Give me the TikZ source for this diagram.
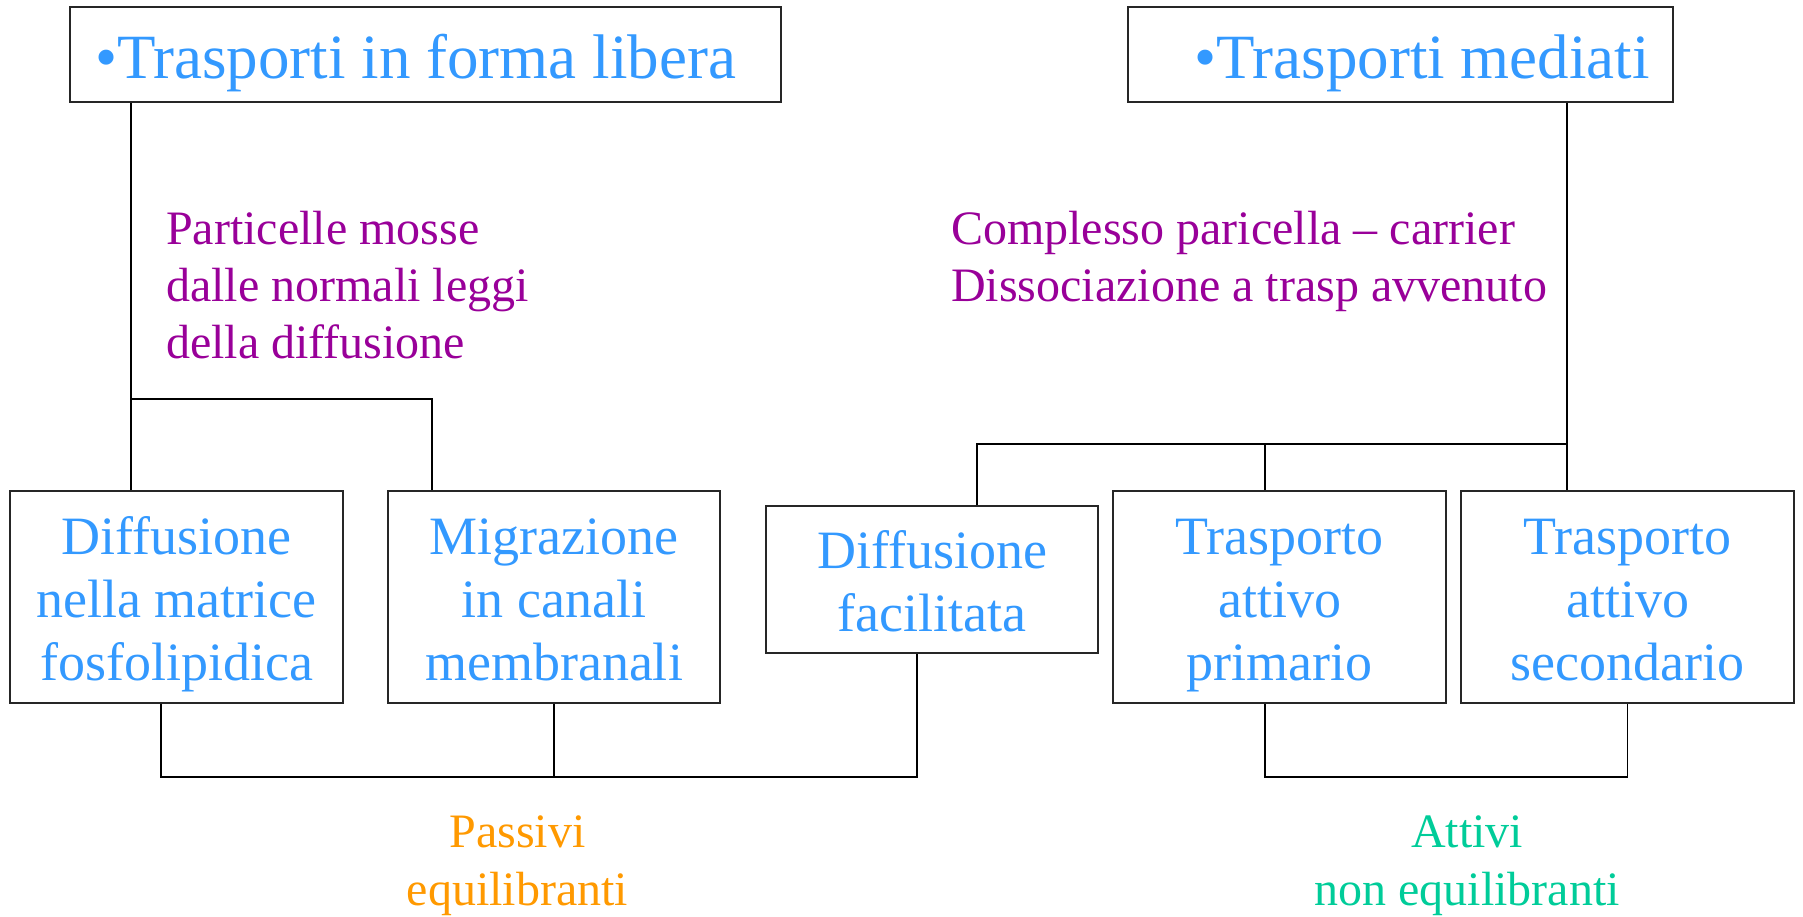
\documentclass[tikz,border=0pt]{standalone}
\usepackage{fontspec}
\setmainfont{Liberation Serif}
\definecolor{tblue}{HTML}{3399FF}
\definecolor{tpurple}{HTML}{990099}
\definecolor{torange}{HTML}{FF9900}
\definecolor{tgreen}{HTML}{00CC99}
\begin{document}
\begin{tikzpicture}[x=1pt,y=-1pt,
  boxst/.style={draw=black!85,line width=1.4pt,inner sep=0pt,rectangle},
  conn/.style={draw=black,line width=1.6pt},
  toptext/.style={text=tblue,font=\fontsize{63}{70}\selectfont,inner sep=0pt,anchor=base},
  boxtext/.style={text=tblue,font=\fontsize{54}{63}\selectfont,inner sep=0pt,align=center,anchor=base},
  notetext/.style={text=tpurple,font=\fontsize{48}{57}\selectfont,inner sep=0pt,align=left,anchor=base west},
  cattext/.style={font=\fontsize{48}{57.5}\selectfont,inner sep=0pt,align=center,anchor=base}]
\useasboundingbox (0,0) rectangle (1803,916);
% top boxes
\node[boxst,minimum width=711pt,minimum height=95pt] (tl) at (425.5,54.5) {};
\node[boxst,minimum width=545pt,minimum height=95pt] (tr) at (1400.5,54.5) {};
\node[toptext] (tlt) at (415.5,78) {•Trasporti in forma libera};
\node[toptext] (trt) at (1422,78) {•Trasporti mediati};
% bottom boxes
\node[boxst,minimum width=333pt,minimum height=212pt] (b1) at (176.5,597) {};
\node[boxst,minimum width=332pt,minimum height=212pt] (b2) at (554,597) {};
\node[boxst,minimum width=332pt,minimum height=147pt] (b3) at (932,579.5) {};
\node[boxst,minimum width=333pt,minimum height=212pt] (b4) at (1279.5,597) {};
\node[boxst,minimum width=333pt,minimum height=212pt] (b5) at (1627.5,597) {};
\node[boxtext] (b1t) at (176.5,680) {Diffusione\\nella matrice\\fosfolipidica};
\node[boxtext] (b2t) at (554,680) {Migrazione\\in canali\\membranali};
\node[boxtext] (b3t) at (932,631) {Diffusione\\facilitata};
\node[boxtext] (b4t) at (1279.5,680) {Trasporto\\attivo\\primario};
\node[boxtext] (b5t) at (1627.5,680) {Trasporto\\attivo\\secondario};
% notes
\node[notetext] (nl) at (166,358) {Particelle mosse\\dalle normali leggi\\della diffusione};
\node[notetext] (nr) at (951,301) {Complesso paricella -- carrier\\Dissociazione a trasp avvenuto};
\node[cattext,text=torange] (pas) at (517.5,905) {Passivi\\equilibranti};
\node[cattext,text=tgreen] (att) at (1467,905) {Attivi\\non equilibranti};
% junctions
\coordinate (jl) at (131,399);
\coordinate (jl2) at (432,399);
\coordinate (jr) at (1567,444);
\coordinate (jr3) at (977,444);
\coordinate (jr4) at (1265,444);
\coordinate (pl) at (161,777);
\coordinate (pr) at (917,777);
\coordinate (ar) at (1265,777);
% connectors left
\draw[conn] (tl.south -| jl) -- (b1.north -| jl);
\draw[conn] (jl) -- (jl2) -- (b2.north -| jl2);
% connectors right
\draw[conn] (tr.south -| jr) -- (b5.north -| jr);
\draw[conn] (jr3 |- b3.north) -- (jr3) -- (jr);
\draw[conn] (jr4) -- (b4.north -| jr4);
% bottom passive
\draw[conn] (b1.south -| pl) -- (pl) -- (pr) -- (b3.south -| pr);
\draw[conn] (b2.south) -- (b2.south |- pl);
% bottom active
\draw[conn] (b4.south -| ar) -- (ar) -- (ar -| b5.south) -- (b5.south);
\end{tikzpicture}
\end{document}
